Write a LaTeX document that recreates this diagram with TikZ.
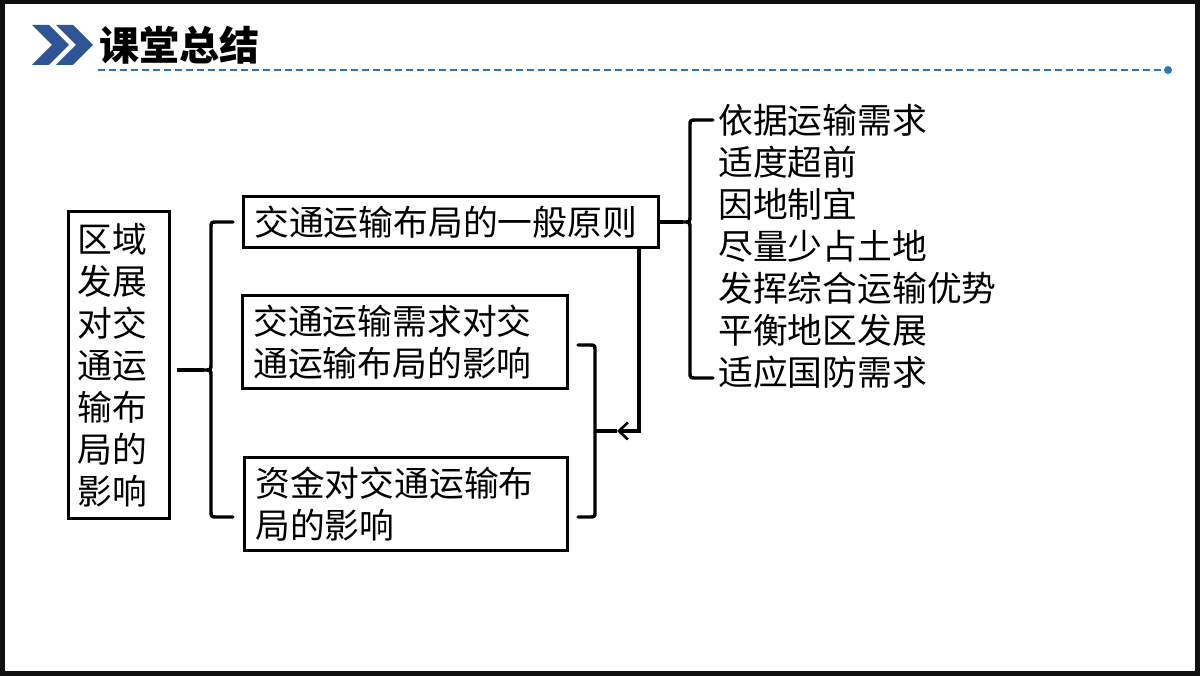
\documentclass[tikz,border=0pt]{standalone}
\usepackage{fontspec}
\setmainfont{Noto Sans CJK SC}
\usetikzlibrary{arrows.meta}
\definecolor{chevblue}{HTML}{2F5597}
\definecolor{lineblue}{HTML}{2E75B6}
\definecolor{framedark}{HTML}{101010}
\tikzset{
  txt/.style={font=\fontsize{34.8}{42}\selectfont, inner sep=0pt, align=left},
  box/.style={txt, draw, line width=2.6pt, anchor=north west, inner xsep=11pt, inner ysep=0pt},
  brace/.style={line width=3.4pt, line cap=round, line join=round},
  conn/.style={line width=3.4pt},
  arr/.style={conn, -{Straight Barb[length=9pt,width=17pt,line width=2.6pt]}},
}
\begin{document}
\begin{tikzpicture}[x=1pt,y=-1pt]
\useasboundingbox (0,0) rectangle (1200,676);
\fill[framedark] (0,0) rectangle (1200,676);
\fill[white] (5,4) rectangle (1195,671);
% header
\fill[chevblue] (32,25) -- (49,25) -- (69,45) -- (49,65) -- (32,65) -- (52,45) -- cycle;
\fill[chevblue] (56,25) -- (73,25) -- (93,45) -- (73,65) -- (56,65) -- (76,45) -- cycle;
\node[anchor=west, inner sep=0pt, font=\fontsize{40}{40}\selectfont\bfseries] (title) at (99,45) {课堂总结};
\coordinate (dl) at (98,70);
\coordinate (dr) at (1168,70);
\draw[lineblue, line width=1.3pt, dash pattern=on 7pt off 4pt] (dl) -- (dr);
\fill[lineblue] (dr) circle (4);
% boxes
\node[box, inner xsep=9pt, text width=83pt, minimum height=307pt] (b1) at (67,210)
  {区域\\发展\\对交\\通运\\输布\\局的\\影响};
\node[box, text width=393pt, minimum height=51pt] (b2) at (242,195) {交通运输布局的一般原则};
\node[box, text width=303pt, minimum height=93pt] (b3) at (241,294) {交通运输需求对交\\通运输布局的影响};
\node[box, text width=301pt, minimum height=93pt] (b4) at (243,456) {资金对交通运输布\\局的影响};
% right list
\node[txt, anchor=west] (list) at (718,246)
  {依据运输需求\\适度超前\\因地制宜\\尽量少占土地\\发挥综合运输优势\\平衡地区发展\\适应国防需求};
% brace 1
\coordinate (t1) at (204,370);
\draw[brace] (233,222) -- (217,222) .. controls (211,222) .. (211,228) -- (211,364)
  .. controls (211,370) .. (t1) .. controls (211,370) .. (211,376) -- (211,511)
  .. controls (211,517) .. (217,517) -- (233,517);
\draw[conn] ([xshift=6pt]b1.east |- t1) -- (t1);
% brace 2
\coordinate (t2) at (683,222);
\draw[brace] (713,120) -- (696,120) .. controls (690,120) .. (690,126) -- (690,216)
  .. controls (690,222) .. (t2) .. controls (690,222) .. (690,228) -- (690,372)
  .. controls (690,378) .. (696,378) -- (713,378);
\draw[conn] (b2.east |- t2) -- (t2);
% brace 3
\coordinate (t3) at (595,431);
\draw[brace] (578,345) -- (589,345) .. controls (595,345) .. (595,351) -- (595,511)
  .. controls (595,517) .. (589,517) -- (578,517);
\coordinate (ah) at (617,431);
\draw[arr] (b2.south -| 639,0) |- (ah);
\draw[conn] (ah) -- (t3);
\end{tikzpicture}
\end{document}
